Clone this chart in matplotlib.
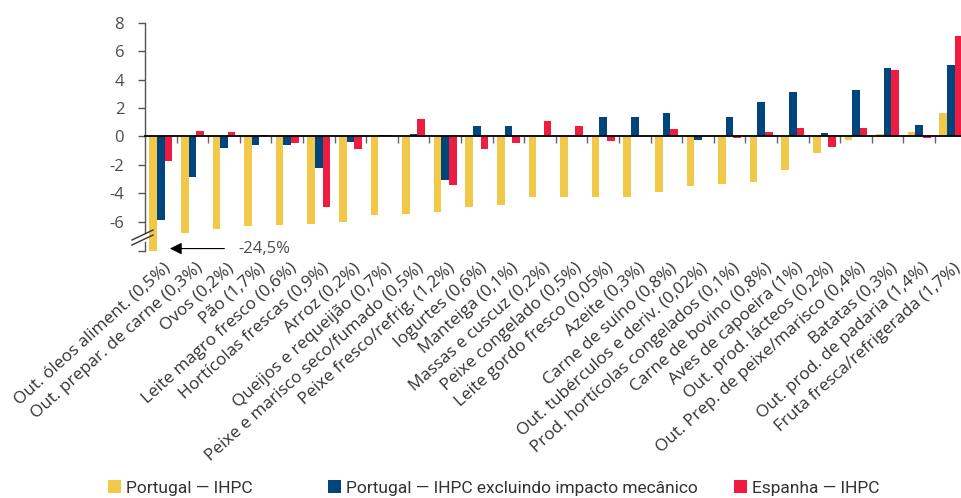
import numpy as np
import matplotlib
matplotlib.use("Agg")
import matplotlib.pyplot as plt
from matplotlib.lines import Line2D
from matplotlib.patches import Patch

plt.rcParams['font.family'] = ['Open Sans', 'DejaVu Sans']
plt.rcParams['axes.unicode_minus'] = False

categories = [
    "Out. óleos aliment. (0,5%)", "Out. prepar. de carne (0,3%)", "Ovos (0,2%)",
    "Pão (1,7%)", "Leite magro fresco (0,6%)", "Hortícolas frescas (0,9%)",
    "Arroz (0,2%)", "Queijos e requeijão (0,7%)", "Peixe e marisco seco/fumado (0,5%)",
    "Peixe fresco/refrig. (1,2%)", "Iogurtes (0,6%)", "Manteiga (0,1%)",
    "Massas e cuscuz (0,2%)", "Peixe congelado (0,5%)", "Leite gordo fresco (0,05%)",
    "Azeite (0,3%)", "Carne de suíno (0,8%)", "Out. tubérculos e deriv. (0,02%)",
    "Prod. hortícolas congelados (0,1%)", "Carne de bovino (0,8%)", "Aves de capoeira (1%)",
    "Out. prod. lácteos (0,2%)", "Out. Prep. de peixe/marisco (0,4%)", "Batatas (0,3%)",
    "Out. prod. de padaria (1,4%)", "Fruta fresca/refrigerada (1,7%)",
]
pt_ihpc = [-24.5, -6.8, -6.5, -6.3, -6.25, -6.2, -6.05, -5.55, -5.45, -5.3, -4.95, -4.85,
           -4.3, -4.3, -4.3, -4.25, -3.95, -3.5, -3.35, -3.2, -2.35, -1.2, -0.25, 0.15,
           0.3, 1.65]
pt_excl = [-5.9, -2.85, -0.8, -0.6, -0.6, -2.2, -0.4, 0.08, 0.2, -3.1, 0.7, 0.75,
           0.05, 0.03, 1.35, 1.38, 1.65, -0.25, 1.35, 2.45, 3.1, 0.22, 3.25, 4.8,
           0.78, 5.0]
es_ihpc = [-1.75, 0.4, 0.28, 0.07, -0.5, -4.95, -0.92, 0.12, 1.22, -3.45, -0.92, -0.45,
           1.08, 0.72, -0.3, 0.0, 0.53, 0.0, -0.12, 0.3, 0.58, -0.78, 0.56, 4.7,
           -0.12, 7.05]
series_names = ["Portugal — IHPC", "Portugal — IHPC excluindo impacto mecânico",
                "Espanha — IHPC"]
colors = ['#F2C84B', '#00457C', '#EF1B40']
yticks = [8, 6, 4, 2, 0, -2, -4, -6]

W, H = 962, 498
fig = plt.figure(figsize=(W / 100, H / 100), dpi=100)
ax = fig.add_axes([145 / W, 1 - 250.7 / H, 821.6 / W, 228 / H])

x = np.arange(len(categories))
bw = 0.24
for k, (vals, c) in enumerate(zip([pt_ihpc, pt_excl, es_ihpc], colors)):
    ax.bar(x + (k - 1) * bw, vals, bw, color=c, edgecolor='none', zorder=2)

ax.set_xlim(-0.5, len(categories) - 0.5)
ax.set_ylim(-8.05, 8)

# spines
for s in ['top', 'right', 'left']:
    ax.spines[s].set_visible(False)
ax.spines['bottom'].set_position(('data', 0))
ax.spines['bottom'].set_color('black')
ax.spines['bottom'].set_linewidth(1.3)
ax.spines['bottom'].set_zorder(3)

ax.set_xticks(x[:-1] + 0.5)
ax.set_xticklabels([])
ax.tick_params(axis='x', direction='out', length=5, width=1, color='#666666')

# broken y axis drawn by hand
ytr = ax.get_yaxis_transform()
ax.plot([0, 0], [8, -6.8], color='#555555', lw=1, transform=ytr, clip_on=False)
ax.plot([0, 0], [-7.42, -8.05], color='#555555', lw=1, transform=ytr, clip_on=False)
ax.set_yticks(yticks + [-8.05])
ax.set_yticklabels([str(v) for v in yticks] + [''])
ax.tick_params(axis='y', direction='out', length=5, width=1, color='#555555',
               labelcolor='#4d4d4d', labelsize=12, pad=10)

tf = fig.transFigure
for dy in (0, 5):
    fig.add_artist(Line2D([132 / W, 153 / W], [1 - (240 + dy) / H, 1 - (230 + dy) / H],
                          transform=tf, color='#333333', lw=1))

# category labels
xtr = ax.get_xaxis_transform()
for i, lab in enumerate(categories):
    ax.text(i + 0.08, -0.04, lab, transform=xtr, rotation=42, rotation_mode='anchor',
            ha='right', va='top', fontsize=12.3, color='#333333')

# note for the clipped bar
ax.annotate('', xy=(0.2, -7.9), xytext=(2.1, -7.9),
            arrowprops=dict(arrowstyle='-|>', color='black', lw=0.8,
                            mutation_scale=18), annotation_clip=False)
ax.text(2.45, -7.9, '-24,5%', fontsize=12, color='#4d4d4d', va='center', ha='left')

# legend: one entry per anchor so the spacing follows the reference
legend_x = [108, 328, 734]
for name, c, lx in zip(series_names, colors, legend_x):
    leg = fig.legend([Patch(facecolor=c, edgecolor='none')], [name], loc='center left',
                     bbox_to_anchor=(lx / W, 1 - 488 / H), frameon=False,
                     handlelength=0.75, handleheight=0.75, handletextpad=0.3,
                     borderaxespad=0, borderpad=0,
                     prop={'family': 'Roboto', 'size': 12.5})
    for t in leg.get_texts():
        t.set_color('#333333')

fig.savefig('out.png', dpi=100)
